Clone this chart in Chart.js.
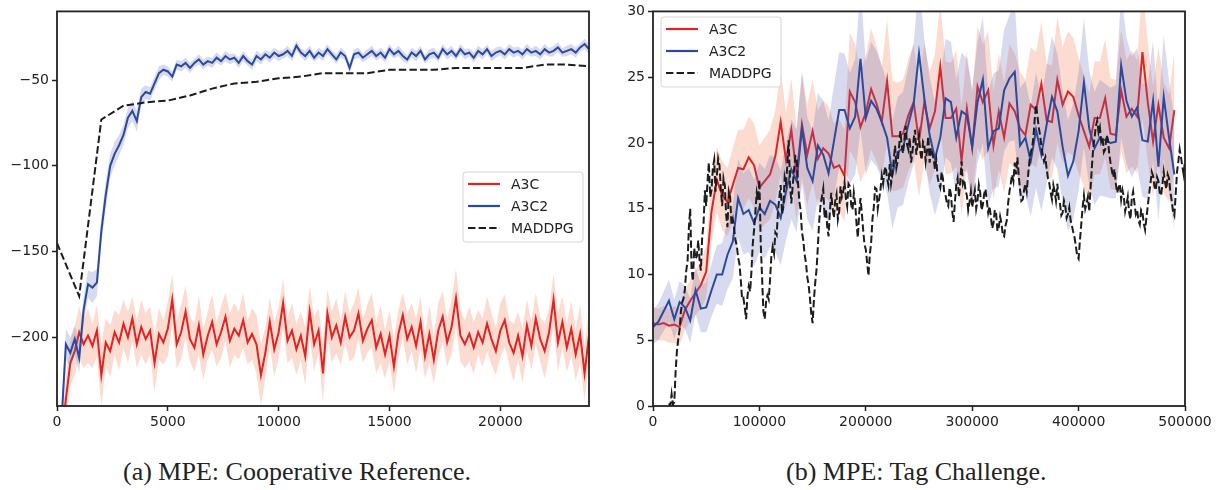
<!DOCTYPE html>
<html>
<head>
<meta charset="utf-8">
<style>
  body { margin: 0; background: #fff; width: 1221px; height: 490px; position: relative; overflow: hidden; }
  .box { position: absolute; top: 0; height: 440px; }
  .cap { position: absolute; top: 459px; font: 26px/26px "Liberation Serif", "Times New Roman", serif; color: #222; white-space: nowrap; }
</style>
</head>
<body>
<div class="box" style="left:0;width:600px"><canvas id="left"></canvas></div>
<div class="box" style="left:600px;width:621px"><canvas id="right"></canvas></div>
<div class="cap" style="left:123px">(a) MPE: Cooperative Reference.</div>
<div class="cap" style="left:786px">(b) MPE: Tag Challenge.</div>

<script src="https://cdn.jsdelivr.net/npm/chart.js"></script>
<script>
  // ---- (a) cooperative reference: one point every 200 steps ----
  const leftStep = 200;
  const leftA3C = [
    -300, -262, -236, -215, -208, -197, -204, -199, -205, -196,
    -222, -203, -208, -197, -203, -192, -200, -189, -204, -194,
    -201, -196, -215, -198, -203, -195, -178, -204, -197, -185,
    -201, -206, -193, -210, -199, -191, -204, -197, -188, -202,
    -195, -199, -190, -203, -198, -204, -222, -209, -191, -207,
    -197, -180, -202, -196, -207, -199, -211, -185, -204, -196,
    -221, -186, -200, -193, -203, -188, -200, -196, -186, -202,
    -195, -190, -206, -198, -210, -199, -217, -198, -187, -201,
    -194, -205, -191, -211, -198, -213, -196, -188, -203, -194,
    -177, -199, -204, -198, -206, -197, -203, -192, -201, -208,
    -196, -190, -203, -209, -199, -211, -193, -205, -189, -201,
    -208, -197, -178, -203, -191, -206, -195, -210, -198, -221,
    -199
  ];
  const leftA3CSpread = [
    8, 10, 12, 13, 14, 15, 14, 16, 13, 15,
    18, 14, 15, 13, 16, 14, 15, 13, 14, 16,
    15, 14, 17, 15, 13, 16, 15, 14, 16, 15,
    13, 14, 17, 15, 14, 16, 13, 15, 14, 16,
    15, 14, 16, 13, 15, 17, 18, 15, 14, 16,
    15, 14, 13, 16, 15, 14, 17, 15, 16, 13,
    17, 14, 15, 16, 13, 15, 14, 16, 15, 13,
    14, 16, 15, 17, 14, 15, 16, 14, 13, 15,
    14, 16, 15, 13, 17, 14, 16, 15, 14, 16,
    17, 15, 14, 16, 15, 13, 14, 16, 15, 14,
    16, 15, 13, 17, 14, 16, 15, 14, 15, 13,
    16, 14, 15, 17, 15, 14, 16, 15, 17, 16,
    15
  ];
  const leftA3C2 = [
    -290, -250, -204, -209, -201, -212, -184, -169, -171, -168,
    -138, -117, -100, -93, -88, -82, -72, -68, -74, -60,
    -57, -58, -52, -46, -44, -45, -48, -41, -42, -40,
    -43, -40, -38, -41, -39, -40, -37, -39, -36, -38,
    -37, -40, -36, -39, -41, -36, -38, -35, -37, -34,
    -36, -35, -33, -36, -30, -34, -36, -33, -37, -34,
    -36, -32, -35, -38, -34, -36, -43, -35, -34, -37,
    -35, -33, -36, -34, -37, -32, -35, -33, -36, -38,
    -34, -36, -33, -38, -35, -34, -37, -32, -35, -33,
    -36, -32, -35, -34, -37, -33, -35, -32, -36, -34,
    -33, -35, -32, -34, -33, -35, -32, -34, -33, -35,
    -32, -34, -33, -31, -34, -33, -32, -34, -31, -29,
    -32
  ];
  const leftA3C2Spread = [
    10, 10, 9, 9, 8, 9, 8, 8, 9, 8,
    8, 8, 7, 7, 6, 6, 6, 6, 6, 5,
    4, 4, 4, 4, 3, 3, 3, 3, 3, 3,
    3, 2.5, 3, 3, 2.5, 3, 3, 2.5, 3, 3,
    2.5, 3, 3, 2.5, 3, 3, 3, 2.5, 3, 3,
    3, 2.5, 3, 3, 3, 2.5, 3, 3, 2.5, 3,
    3, 3, 2.5, 3, 3, 2.5, 3, 3, 3, 2.5,
    3, 3, 2.5, 3, 3, 3, 2.5, 3, 3, 2.5,
    3, 3, 3, 2.5, 3, 3, 2.5, 3, 3, 3,
    2.5, 3, 3, 2.5, 3, 3, 3, 2.5, 3, 3,
    2.5, 3, 3, 3, 2.5, 3, 3, 2.5, 3, 3,
    3, 2.5, 3, 3, 2.5, 3, 3, 3, 2.5, 3,
    3
  ];
  const leftMaddpgX = [0, 1000, 2000, 3000, 4000, 5000, 6000, 7000, 8000, 9000, 10000, 11000, 12000,
                       13000, 14000, 15000, 16000, 17000, 18000, 19000, 20000, 21000, 22000, 23000, 24000];
  const leftMaddpg = [-145, -176, -73, -65, -63, -62, -59, -55, -52, -51, -49, -48, -46,
                      -46, -46, -44, -44, -44, -43, -43, -43, -43, -41, -41, -42];
  const leftXTicks = [0, 5000, 10000, 15000, 20000];
  const leftYTicks = [-200, -150, -100, -50];

  // ---- (b) tag challenge: A3C / A3C2 every 5000 steps, MADDPG every 1250 from 15000 ----
  const rightStep = 5000;
  const rightA3C = [
    6.3, 6.2, 6.3, 6.1, 6.2, 6.0, 7.3, 8.0, 8.6, 9.2,
    10.2, 14.8, 17.2, 16.0, 15.5, 16.8, 18.1, 18.0, 18.9, 18.3,
    16.6, 17.1, 17.6, 19.0, 21.6, 18.7, 21.0, 17.6, 21.4, 19.1,
    20.9, 18.8, 19.6, 19.2, 18.1, 18.3, 17.5, 23.9, 23.1, 21.2,
    22.3, 24.1, 23.0, 21.6, 24.7, 20.5, 20.5, 20.7, 22.1, 23.1,
    20.1, 23.1, 21.1, 22.4, 25.8, 21.9, 21.9, 22.6, 18.6, 22.6,
    19.6, 24.3, 23.1, 24.0, 19.8, 22.4, 20.4, 23.0, 22.4, 21.1,
    20.6, 22.9, 22.5, 24.5, 21.7, 21.6, 24.8, 22.9, 23.9, 23.5,
    22.1, 20.9, 19.7, 21.9, 21.9, 23.4, 20.7, 20.6, 24.0, 22.0,
    22.6, 22.0, 26.9, 23.1, 20.1, 22.9, 20.4, 19.6, 22.5
  ];
  const rightA3CSpread = [
    1.2, 1.2, 1.3, 1.3, 1.4, 1.4, 1.5, 1.6, 1.7, 1.8,
    2.0, 2.3, 2.5, 2.6, 2.6, 2.8, 2.9, 3.0, 3.1, 3.2,
    3.2, 3.3, 3.4, 3.5, 4.0, 3.6, 3.9, 3.5, 4.0, 3.8,
    3.9, 3.7, 3.6, 3.6, 3.4, 3.5, 3.5, 4.5, 4.4, 4.2,
    4.3, 4.6, 4.4, 4.2, 4.7, 4.2, 4.1, 4.1, 4.3, 4.4,
    4.2, 4.5, 4.3, 4.4, 4.8, 4.3, 4.2, 4.4, 4.1, 4.4,
    4.2, 4.6, 4.4, 4.5, 4.1, 4.4, 4.2, 4.5, 4.4, 4.3,
    4.2, 4.4, 4.4, 4.7, 4.3, 4.3, 4.8, 4.4, 4.6, 4.5,
    4.4, 4.2, 4.1, 4.3, 4.3, 4.5, 4.2, 4.2, 4.6, 4.3,
    4.4, 4.3, 5.0, 4.5, 4.2, 4.4, 4.2, 4.1, 4.4
  ];
  const rightA3C2 = [
    6.0, 6.4, 7.2, 8.0, 6.6, 7.9, 7.5, 6.5, 8.8, 7.4,
    7.5, 8.8, 10.0, 10.0, 11.5, 12.5, 15.8, 14.6, 14.9, 13.9,
    15.1, 14.6, 15.6, 15.3, 14.3, 16.3, 18.0, 17.1, 21.1, 18.1,
    17.1, 19.8, 19.1, 17.7, 20.1, 22.5, 22.5, 21.1, 22.0, 26.4,
    21.9, 23.2, 22.6, 21.6, 20.4, 17.6, 19.3, 19.6, 21.4, 23.0,
    26.8, 23.4, 20.6, 18.8, 20.4, 23.4, 23.1, 20.4, 22.4, 22.1,
    19.7, 23.1, 24.8, 19.6, 20.9, 21.1, 24.0, 24.9, 25.4, 19.8,
    20.4, 18.6, 21.0, 19.1, 21.4, 23.5, 22.4, 19.7, 17.5, 18.6,
    20.9, 24.6, 21.1, 19.6, 20.4, 20.2, 20.0, 20.1, 25.9, 23.2,
    22.0, 22.7, 20.2, 20.1, 23.2, 18.2, 23.5, 20.4, 17.6
  ];
  const rightA3C2Spread = [
    1.3, 1.4, 1.5, 1.6, 1.5, 1.6, 1.6, 1.7, 1.8, 1.8,
    1.9, 2.0, 2.2, 2.4, 2.6, 2.8, 3.0, 3.1, 3.2, 3.3,
    3.4, 3.4, 3.5, 3.6, 3.6, 3.7, 3.8, 3.9, 4.2, 3.9,
    3.8, 4.0, 4.1, 4.0, 4.2, 4.4, 4.3, 4.2, 4.4, 5.4,
    4.3, 4.5, 4.4, 4.3, 4.2, 4.1, 4.2, 4.3, 4.4, 4.6,
    5.6, 4.5, 4.4, 4.3, 4.4, 4.5, 4.6, 4.4, 4.5, 4.3,
    4.4, 4.6, 4.8, 4.3, 4.4, 4.4, 4.6, 4.8, 5.2, 4.4,
    4.3, 4.2, 4.4, 4.3, 4.5, 4.6, 4.4, 4.3, 4.2, 4.4,
    4.5, 4.9, 4.4, 4.3, 4.4, 4.3, 4.2, 4.3, 5.5, 4.8,
    4.6, 4.5, 4.3, 4.3, 4.6, 4.1, 4.7, 4.3, 4.2
  ];
  const rightMaddpgStart = 15000;
  const rightMaddpgStep = 1250;
  const rightMaddpg = [
    0.2, 0.0, 0.9, 0.1, 0.3, 2.6, 4.2, 5.1, 5.8, 7.2, 7.9, 8.2, 8.9, 10.3, 11.0, 13.6, 15.0, 10.4, 9.5, 12.0,
    11.2, 11.4, 12.6, 11.1, 10.3, 12.9, 13.8, 16.4, 15.2, 17.1, 18.5, 15.9, 16.4, 18.1, 18.7, 16.3, 17.5, 18.8, 18.3, 16.5,
    15.2, 17.3, 16.8, 14.5, 13.6, 16.3, 15.9, 13.8, 14.2, 13.5, 12.6, 12.2, 11.3, 10.8, 9.6, 8.1, 8.2, 7.5, 6.6, 8.3,
    9.1, 8.7, 10.2, 12.3, 13.4, 14.8, 16.2, 15.6, 17.2, 12.4, 9.8, 7.2, 6.6, 7.9, 8.4, 8.1, 9.6, 11.4, 12.1, 11.6,
    13.2, 13.0, 14.8, 15.9, 16.8, 14.6, 15.1, 17.4, 16.9, 18.3, 20.2, 17.0, 15.4, 16.7, 17.9, 19.0, 18.9, 17.0, 15.6, 14.9,
    13.2, 12.6, 11.5, 10.9, 9.8, 9.2, 8.2, 7.0, 6.3, 8.1, 9.4, 10.4, 12.2, 14.1, 15.3, 15.9, 16.5, 14.3, 15.0, 13.6,
    12.9, 14.8, 16.2, 15.1, 14.3, 15.6, 16.1, 14.2, 14.8, 16.7, 15.9, 16.3, 17.0, 15.8, 15.2, 16.9, 16.7, 15.3, 14.9, 16.2,
    15.4, 13.9, 12.8, 14.6, 15.8, 14.7, 13.4, 12.3, 11.9, 10.9, 9.9, 11.5, 12.4, 14.2, 15.1, 16.6, 16.5, 15.0, 15.7, 16.4,
    17.5, 16.9, 17.9, 18.2, 17.3, 16.8, 18.4, 16.9, 17.6, 18.7, 19.8, 18.1, 18.6, 19.7, 20.9, 19.8, 19.2, 20.3, 21.3, 19.9,
    19.5, 20.4, 18.5, 19.2, 20.3, 21.0, 19.1, 19.9, 20.6, 19.3, 18.7, 20.1, 19.9, 18.6, 19.4, 20.5, 18.5, 19.6, 19.2, 18.8,
    18.0, 18.7, 17.4, 16.9, 16.6, 17.8, 17.3, 16.2, 16.0, 15.4, 15.2, 16.6, 16.1, 14.8, 14.0, 15.5, 16.8, 17.3, 15.9, 17.0,
    18.6, 16.9, 17.2, 16.4, 16.0, 14.9, 15.5, 16.3, 15.1, 15.8, 16.4, 15.0, 15.6, 16.8, 16.2, 14.9, 15.3, 16.1, 16.5, 15.6,
    14.7, 15.2, 14.4, 13.5, 13.9, 14.9, 14.6, 13.3, 13.6, 14.4, 13.9, 13.0, 12.9, 13.7, 14.1, 15.4, 16.3, 16.9, 17.6, 17.1,
    18.5, 17.6, 18.9, 17.5, 16.4, 15.6, 15.7, 16.4, 16.9, 16.3, 17.5, 18.6, 19.3, 19.6, 20.4, 21.8, 22.9, 22.1, 21.2, 20.6,
    19.8, 19.1, 18.6, 18.9, 18.0, 17.3, 16.9, 16.2, 15.7, 16.8, 16.3, 15.6, 16.9, 15.8, 15.4, 14.5, 14.7, 15.6, 15.2, 14.3,
    14.6, 15.1, 14.1, 13.7, 13.2, 12.8, 12.1, 11.4, 11.2, 12.6, 13.8, 15.1, 16.0, 15.0, 15.4, 15.9, 14.8, 16.6, 18.2, 19.6,
    20.4, 21.3, 21.7, 20.8, 21.2, 20.1, 20.4, 19.3, 19.5, 20.6, 20.3, 19.2, 18.5, 17.9, 17.4, 18.0, 16.9, 16.2, 16.6, 16.9,
    15.7, 16.4, 15.9, 14.8, 15.3, 15.9, 14.7, 14.2, 15.8, 16.3, 15.4, 14.6, 14.9, 14.1, 13.8, 14.9, 14.7, 13.9, 13.4, 14.3,
    15.2, 16.1, 16.9, 17.8, 17.5, 16.7, 16.4, 17.4, 17.1, 16.2, 16.0, 16.8, 17.8, 17.0, 16.5, 17.6, 17.3, 16.3, 15.6, 14.8,
    14.5, 16.1, 17.8, 18.6, 19.5, 18.9, 18.2, 17.6, 18.7
  ];
  const rightXTicks = [0, 100000, 200000, 300000, 400000, 500000];
  const rightYTicks = [0, 5, 10, 15, 20, 25, 30];

  const red = '#e32222';
  const blue = '#2a4a9e';
  const black = '#1c1c1c';
  const redBand = 'rgba(244, 125, 85, 0.28)';
  const blueBand = 'rgba(90, 105, 190, 0.24)';
  const dash = [7.4, 3.2];

  function pts(vals, x0, dx) {
    return vals.map((v, i) => ({ x: x0 + i * dx, y: v }));
  }
  function edge(vals, spread, x0, dx, sign) {
    return vals.map((v, i) => {
      let s = spread[i] !== undefined ? spread[i] : spread[spread.length - 1];
      return { x: x0 + i * dx, y: v + sign * s };
    });
  }
  function lineSet(label, data, color, order, dashed) {
    return {
      label: label, data: data, borderColor: color, borderWidth: 2,
      borderDash: dashed ? dash : [], pointRadius: 0, tension: 0, fill: false, order: order
    };
  }
  function bandSets(label, hi, lo, color, order) {
    return [
      { label: label + ' hi', data: hi, borderColor: 'rgba(0,0,0,0)', borderWidth: 0, pointRadius: 0,
        backgroundColor: color, fill: '+1', order: order },
      { label: label + ' lo', data: lo, borderColor: 'rgba(0,0,0,0)', borderWidth: 0, pointRadius: 0,
        backgroundColor: color, fill: false, order: order }
    ];
  }

  const frame = {
    id: 'frame',
    afterDatasetsDraw(chart) {
      const a = chart.chartArea, c = chart.ctx;
      c.save();
      c.strokeStyle = '#222';
      c.lineWidth = 1.8;
      c.strokeRect(a.left, a.top, a.right - a.left, a.bottom - a.top);
      c.restore();
    }
  };

  const insideLegend = {
    id: 'insideLegend',
    afterDraw(chart, args, o) {
      if (!o || !o.items) return;
      const c = chart.ctx;
      c.save();
      const r = 3;
      c.beginPath();
      c.moveTo(o.x + r, o.y);
      c.arcTo(o.x + o.w, o.y, o.x + o.w, o.y + o.h, r);
      c.arcTo(o.x + o.w, o.y + o.h, o.x, o.y + o.h, r);
      c.arcTo(o.x, o.y + o.h, o.x, o.y, r);
      c.arcTo(o.x, o.y, o.x + o.w, o.y, r);
      c.closePath();
      c.fillStyle = 'rgba(255,255,255,0.85)';
      c.fill();
      c.strokeStyle = '#d6d6d6';
      c.lineWidth = 1;
      c.stroke();
      c.font = '14px "DejaVu Sans"';
      c.textBaseline = 'middle';
      o.items.forEach((it, i) => {
        const y = o.y + 12 + i * 22;
        c.beginPath();
        c.setLineDash(it.dashed ? dash : []);
        c.strokeStyle = it.color;
        c.lineWidth = 2.2;
        c.moveTo(o.x + 5, y);
        c.lineTo(o.x + 37, y);
        c.stroke();
        c.setLineDash([]);
        c.fillStyle = '#222';
        c.fillText(it.label, o.x + 48, y + 1);
      });
      c.restore();
    }
  };

  const legendItems = [
    { label: 'A3C', color: red },
    { label: 'A3C2', color: blue },
    { label: 'MADDPG', color: black, dashed: true }
  ];

  Chart.defaults.font.family = '"DejaVu Sans", sans-serif';
  Chart.defaults.font.size = 14;
  Chart.defaults.color = '#222';

  function axis(min, max, ticks, fixed, isX) {
    return {
      type: 'linear', min: min, max: max,
      afterBuildTicks: s => { s.ticks = ticks.map(v => ({ value: v })); },
      afterFit: s => { if (isX) s.height = fixed; else s.width = fixed; },
      grid: { display: true, drawOnChartArea: false, drawTicks: true, tickLength: 5, tickWidth: 1.5, tickColor: '#222' },
      border: { display: false },
      ticks: {
        padding: 3, color: '#222', maxRotation: 0, autoSkip: false,
        callback: v => String(v).replace('-', '\u2212')
      }
    };
  }

  function makeChart(id, datasets, xs, ys, legend, pad) {
    new Chart(document.getElementById(id), {
      type: 'line',
      data: { datasets: datasets },
      options: {
        responsive: true, maintainAspectRatio: false, animation: false, events: [],
        layout: { padding: pad },
        plugins: { legend: { display: false }, tooltip: { enabled: false }, insideLegend: legend },
        scales: { x: xs, y: ys }
      },
      plugins: [frame, insideLegend]
    });
  }

  // left chart
  makeChart('left', [
    lineSet('MADDPG', leftMaddpgX.map((x, i) => ({ x: x, y: leftMaddpg[i] })), black, 0, true),
    lineSet('A3C2', pts(leftA3C2, 0, leftStep), blue, 1),
    ...bandSets('A3C2', edge(leftA3C2, leftA3C2Spread, 0, leftStep, 1), edge(leftA3C2, leftA3C2Spread, 0, leftStep, -1), blueBand, 2),
    lineSet('A3C', pts(leftA3C, 0, leftStep), red, 3),
    ...bandSets('A3C', edge(leftA3C, leftA3CSpread, 0, leftStep, 1), edge(leftA3C, leftA3CSpread, 0, leftStep, -1), redBand, 4)
  ],
  axis(0, 24000, leftXTicks, 34, true),
  axis(-240, -10, leftYTicks, 57, false),
  { x: 463, y: 172, w: 120, h: 70, items: legendItems },
  { top: 9, right: 11, left: 0, bottom: 0 });

  // right chart
  makeChart('right', [
    lineSet('MADDPG', pts(rightMaddpg, rightMaddpgStart, rightMaddpgStep), black, 0, true),
    lineSet('A3C2', pts(rightA3C2, 0, rightStep), blue, 1),
    ...bandSets('A3C2', edge(rightA3C2, rightA3C2Spread, 0, rightStep, 1), edge(rightA3C2, rightA3C2Spread, 0, rightStep, -1), blueBand, 2),
    lineSet('A3C', pts(rightA3C, 0, rightStep), red, 3),
    ...bandSets('A3C', edge(rightA3C, rightA3CSpread, 0, rightStep, 1), edge(rightA3C, rightA3CSpread, 0, rightStep, -1), redBand, 4)
  ],
  axis(0, 500000, rightXTicks, 34, true),
  axis(0, 30, rightYTicks, 53, false),
  { x: 61, y: 17, w: 120, h: 70, items: legendItems },
  { top: 9, right: 36, left: 0, bottom: 0 });
</script>
</body>
</html>
